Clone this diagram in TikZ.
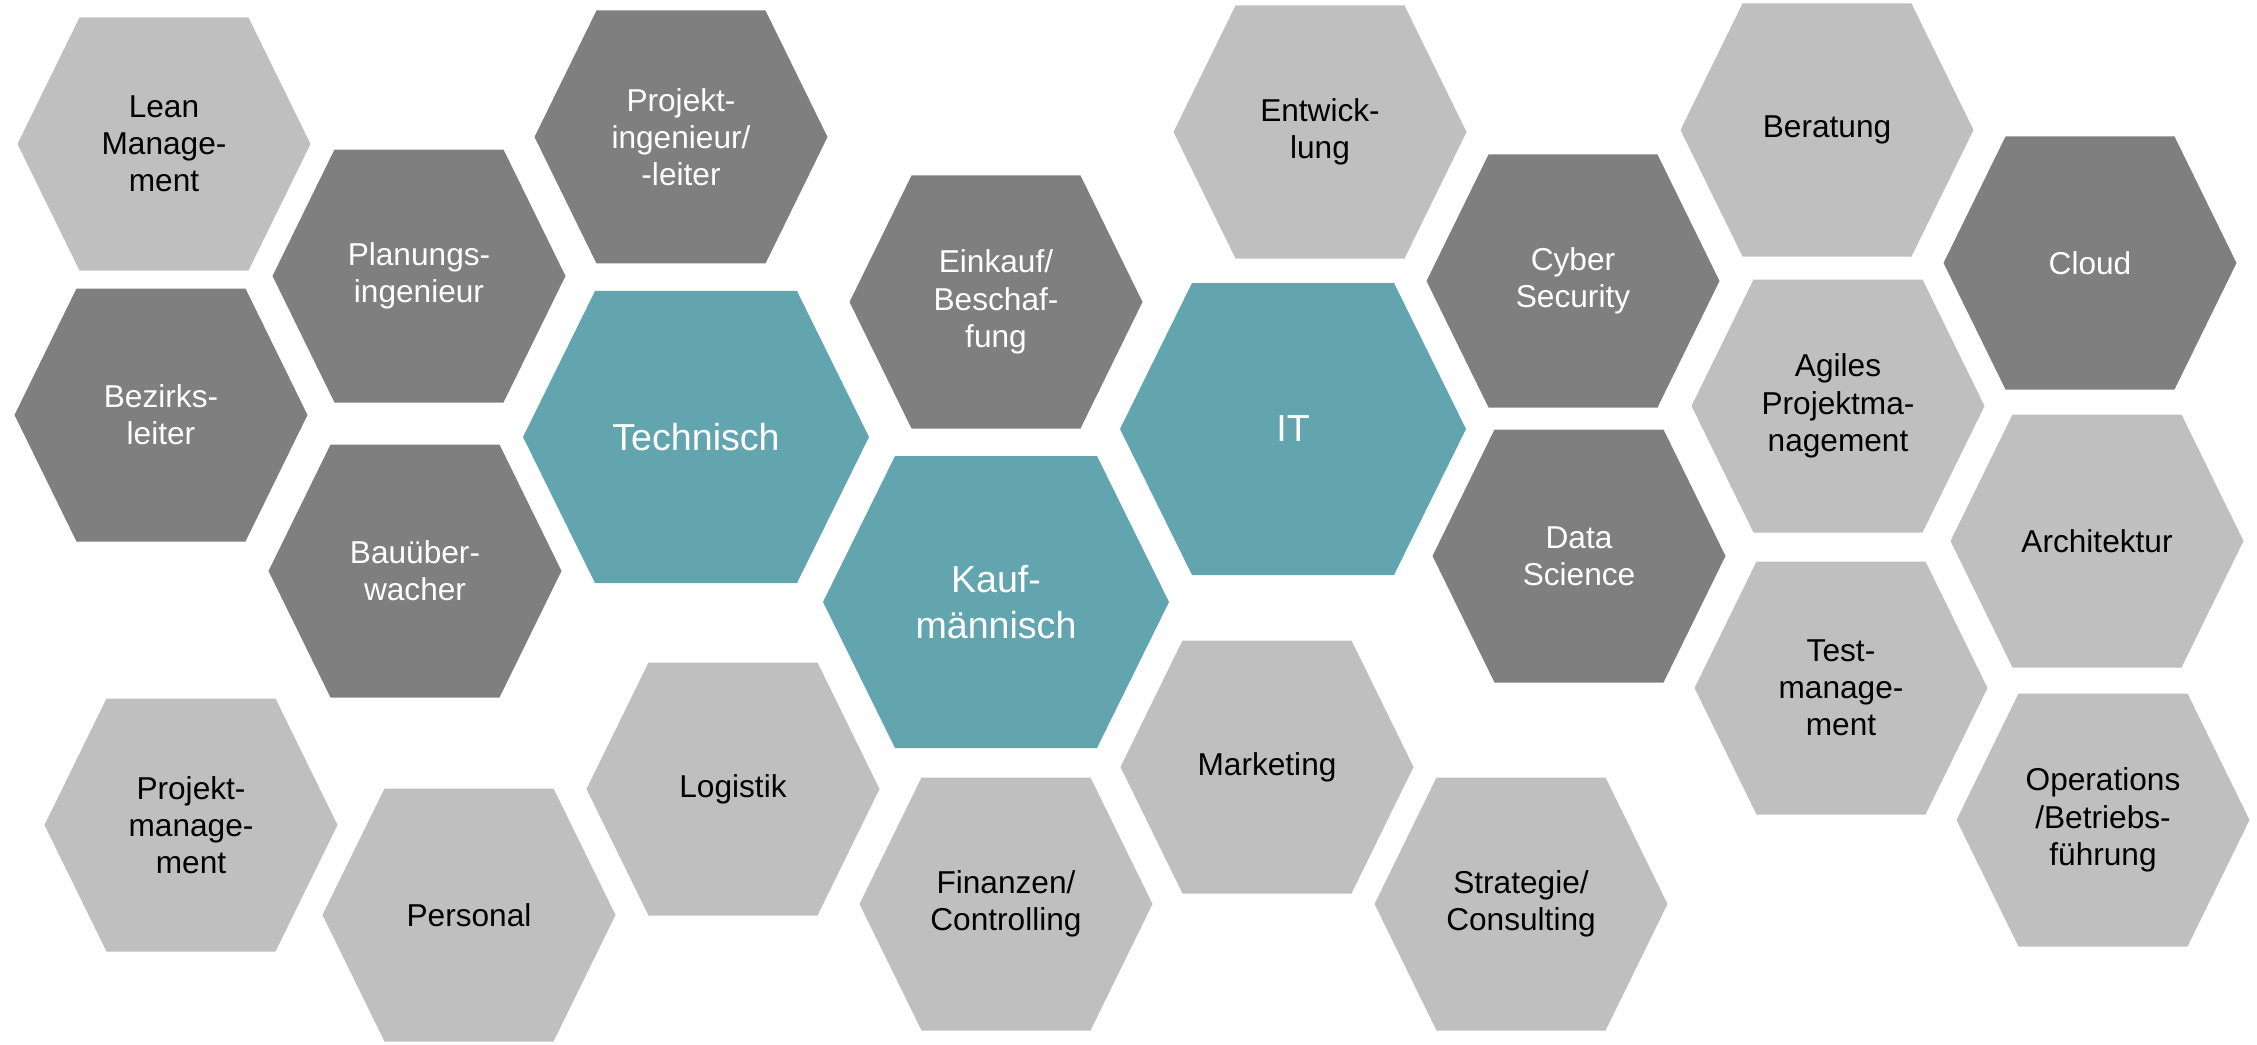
\documentclass[tikz,border=0pt]{standalone}
\usepackage{fontspec}
\setmainfont{Liberation Sans}
\definecolor{hexlight}{HTML}{BFBFBF}
\definecolor{hexdark}{HTML}{7F7F7F}
\definecolor{hexteal}{HTML}{62A5AF}
\tikzset{
  lightcell/.style={fill=hexlight, text=black, font=\fontsize{9}{10.6}\selectfont},
  darkcell/.style={fill=hexdark, text=white, font=\fontsize{9}{10.6}\selectfont},
  areacell/.style={fill=hexteal, text=white, font=\fontsize{10.7}{13.1}\selectfont}
}
% small cell: name, x, y, style, text
\newcommand{\hexcell}[5]{%
  \fill[#4] ({#2-1.465},#3) -- ({#2-0.845},{#3+1.265}) -- ({#2+0.845},{#3+1.265})
    -- ({#2+1.465},#3) -- ({#2+0.845},{#3-1.265}) -- ({#2-0.845},{#3-1.265}) -- cycle;
  \node[#4, fill=none, align=center] (#1) at (#2,#3) {#5};}
% large cell
\newcommand{\areacell}[4]{%
  \fill[areacell] ({#2-1.73},#3) -- ({#2-1.01},{#3+1.46}) -- ({#2+1.01},{#3+1.46})
    -- ({#2+1.73},#3) -- ({#2+1.01},{#3-1.46}) -- ({#2-1.01},{#3-1.46}) -- cycle;
  \node[areacell, fill=none, align=center] (#1) at (#2,#3) {#4};}

\begin{document}
\begin{tikzpicture}
    \useasboundingbox (0,0) rectangle (22.57,10.44);

    % top row
    \hexcell{lean}{1.64}{9.00}{lightcell}{Lean\\Manage-\\ment}
    \hexcell{projing}{6.81}{9.07}{darkcell}{Projekt-\\ingenieur/\\-leiter}
    \hexcell{entw}{13.20}{9.12}{lightcell}{Entwick-\\lung}
    \hexcell{berat}{18.27}{9.14}{lightcell}{Beratung}

    \hexcell{plan}{4.19}{7.68}{darkcell}{Planungs-\\ingenieur}
    \hexcell{einkauf}{9.96}{7.42}{darkcell}{Einkauf/\\Beschaf-\\fung}
    \hexcell{cyber}{15.73}{7.63}{darkcell}{Cyber\\Security}
    \hexcell{cloud}{20.90}{7.81}{darkcell}{Cloud}

    % middle
    \hexcell{bezirk}{1.61}{6.29}{darkcell}{Bezirks-\\leiter}
    \areacell{tech}{6.96}{6.07}{Technisch}
    \areacell{it}{12.93}{6.15}{IT}
    \hexcell{agil}{18.38}{6.38}{lightcell}{Agiles\\Projektma-\\nagement}

    \hexcell{data}{15.79}{4.88}{darkcell}{Data\\Science}
    \hexcell{arch}{20.97}{5.03}{lightcell}{Architektur}
    \hexcell{bau}{4.15}{4.73}{darkcell}{Bauüber-\\wacher}
    \areacell{kauf}{9.96}{4.42}{Kauf-\\männisch}
    \hexcell{test}{18.41}{3.56}{lightcell}{Test-\\manage-\\ment}

    % bottom row
    \hexcell{projman}{1.91}{2.19}{lightcell}{Projekt-\\manage-\\ment}
    \hexcell{logist}{7.33}{2.55}{lightcell}{Logistik}
    \hexcell{market}{12.67}{2.77}{lightcell}{Marketing}
    \hexcell{oper}{21.03}{2.24}{lightcell}{Operations\\/Betriebs-\\führung}
    \hexcell{person}{4.69}{1.29}{lightcell}{Personal}
    \hexcell{finanz}{10.06}{1.40}{lightcell}{Finanzen/\\Controlling}
    \hexcell{strat}{15.21}{1.40}{lightcell}{Strategie/\\Consulting}
\end{tikzpicture}
\end{document}
